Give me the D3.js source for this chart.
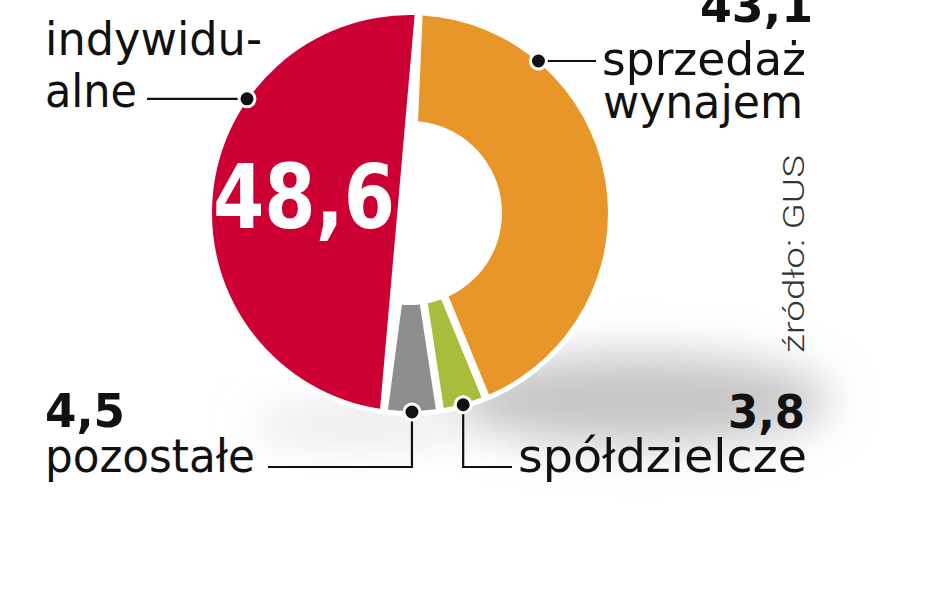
<!DOCTYPE html>
<html>
<head>
<meta charset="utf-8">
<script src="https://cdn.jsdelivr.net/npm/d3@7"></script>
<style>
  html, body { margin: 0; padding: 0; background: #ffffff; }
  svg { display: block; }
</style>
</head>
<body>
<script>
// ---- data ----
const categories = ["sprzedaż wynajem", "spółdzielcze", "pozostałe", "indywidualne"];
const values = [43.1, 3.8, 4.5, 48.6];
const valueLabels = ["43,1", "3,8", "4,5", "48,6"];
const nameLines = [["sprzedaż", "wynajem"], ["spółdzielcze"], ["pozostałe"], ["indywidu-", "alne"]];
const colors = ["#e8962a", "#a9bd3c", "#8e8e8e", "#cc0033"];
const sourceText = "źródło: GUS";

// ---- layout ----
const W = 948, H = 593;
const cx = 410, cy = 213, R = 198, R0 = 92;
const padOffset = 4;
const deg = d => d * Math.PI / 180;
const FONT = "'DejaVu Sans Condensed','Liberation Sans Narrow','DejaVu Sans',sans-serif";

const svg = d3.select("body").append("svg").attr("width", W).attr("height", H);
const defs = svg.append("defs");
const blur = defs.append("filter").attr("id", "shadowBlur")
  .attr("x", "-50%").attr("y", "-100%").attr("width", "200%").attr("height", "300%");
blur.append("feGaussianBlur").attr("stdDeviation", 22);

// soft shadow below the ring
svg.append("ellipse")
  .attr("cx", 640).attr("cy", 400).attr("rx", 190).attr("ry", 46)
  .attr("fill", "#c6c6c6").attr("filter", "url(#shadowBlur)");
svg.append("ellipse")
  .attr("cx", 360).attr("cy", 425).attr("rx", 110).attr("ry", 16)
  .attr("fill", "#e2e2e2").attr("filter", "url(#shadowBlur)");

const g = svg.append("g").attr("transform", `translate(${cx},${cy})`);

// white halo around the ring
g.append("circle").attr("r", R + 5).attr("fill", "#ffffff");

const pie = d3.pie().sort(null).value(d => d)
  .startAngle(deg(2.5)).endAngle(deg(362.5));
const arcs = pie(values);

const arc = d3.arc().innerRadius(R0).outerRadius(R)
  .padAngle(2 * Math.asin(padOffset / 100)).padRadius(100);

// slices with a hole
g.selectAll("path.slice")
  .data(arcs.filter((d, i) => i < 3))
  .join("path")
  .attr("class", "slice")
  .attr("d", arc)
  .attr("fill", (d, i) => colors[i]);

// the big slice is a circular segment (chord closes the shape)
const big = arcs[3];
const p = Math.asin(padOffset / R);
const s = big.startAngle + p, e = big.endAngle - p;
const seg = d3.path();
seg.moveTo(R * Math.sin(s), -R * Math.cos(s));
seg.arc(0, 0, R, s - Math.PI / 2, e - Math.PI / 2, false);
seg.closePath();
g.append("path").attr("d", seg.toString()).attr("fill", colors[3]);

// big value inside
g.append("text")
  .attr("x", 213 - cx).attr("y", 228 - cy)
  .attr("textLength", 182).attr("lengthAdjust", "spacingAndGlyphs")
  .attr("font-family", FONT).attr("font-weight", "bold").attr("font-size", 89)
  .attr("fill", "#ffffff").text(valueLabels[3]);

// ---- leader dots & lines ----
const anchorAngle = [deg(40.2), (arcs[1].startAngle + arcs[1].endAngle) / 2,
                     (arcs[2].startAngle + arcs[2].endAngle) / 2, deg(305)];
const anchors = anchorAngle.map(a => [cx + (R + 1) * Math.sin(a), cy - (R + 1) * Math.cos(a)]);

const lineG = svg.append("g").attr("stroke", "#111").attr("stroke-width", 2.2).attr("fill", "none");
lineG.append("path").attr("d", d3.line()([anchors[0], [596, anchors[0][1]]]));
lineG.append("path").attr("d", d3.line()([anchors[1], [anchors[1][0], 467], [512, 467]]));
lineG.append("path").attr("d", d3.line()([anchors[2], [anchors[2][0], 467], [268, 467]]));
lineG.append("path").attr("d", d3.line()([anchors[3], [147, anchors[3][1]]]));

svg.append("g").selectAll("circle").data(anchors).join("circle")
  .attr("cx", d => d[0]).attr("cy", d => d[1]).attr("r", 8)
  .attr("fill", "#111").attr("stroke", "#fff").attr("stroke-width", 3);

// ---- labels ----
const txt = (x, y, str, size, len, opts = {}) => {
  const t = svg.append("text").attr("x", x).attr("y", y)
    .attr("font-family", FONT).attr("font-size", size)
    .attr("font-weight", opts.bold ? "bold" : "normal")
    .attr("fill", opts.fill || "#111")
    .attr("text-anchor", opts.anchor || "start")
    .text(str);
  if (len) t.attr("textLength", len).attr("lengthAdjust", "spacingAndGlyphs");
  return t;
};

txt(45, 55, nameLines[3][0], 46, 217);
txt(45, 107, nameLines[3][1], 46, 92);
txt(700, 22, valueLabels[0], 47, 113, { bold: true });
txt(602, 75, nameLines[0][0], 46, 204);
txt(603, 118, nameLines[0][1], 46, 200);
txt(45, 427, valueLabels[2], 47, 80, { bold: true });
txt(45, 472, nameLines[2][0], 46, 210);
txt(728, 428, valueLabels[1], 47, 77, { bold: true });
txt(518, 472, nameLines[1][0], 46, 289);

svg.append("text")
  .attr("transform", "translate(804,353) rotate(-90)")
  .attr("font-family", "Roboto, 'DejaVu Sans', sans-serif")
  .attr("font-weight", 300).attr("font-size", 30)
  .attr("fill", "#333")
  .attr("textLength", 198).attr("lengthAdjust", "spacingAndGlyphs")
  .text(sourceText);
</script>
</body>
</html>
